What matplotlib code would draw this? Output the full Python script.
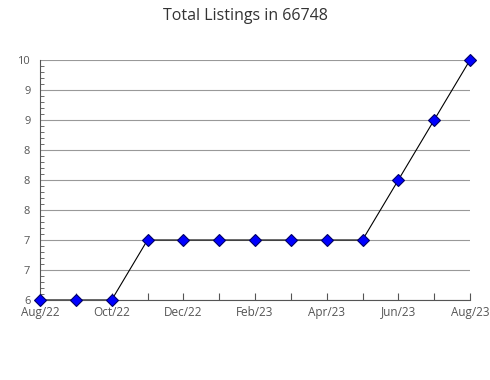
import matplotlib.pyplot as plt
from matplotlib.ticker import FixedLocator, MultipleLocator

months = ["Aug/22", "Sep/22", "Oct/22", "Nov/22", "Dec/22", "Jan/23", "Feb/23",
          "Mar/23", "Apr/23", "May/23", "Jun/23", "Jul/23", "Aug/23"]
listings = [6, 6, 6, 7, 7, 7, 7, 7, 7, 7, 8, 9, 10]
y_ticks = [6, 6.5, 7, 7.5, 8, 8.5, 9, 9.5, 10]
y_labels = ["6", "7", "7", "8", "8", "8", "9", "9", "10"]

plt.rcParams['font.family'] = ['Open Sans', 'DejaVu Sans']

fig = plt.figure(figsize=(4.9, 3.8), dpi=100)
ax = fig.add_axes([40 / 490, 80 / 380, 430 / 490, 240 / 380])

x = list(range(len(months)))
ax.plot(x, listings, color="black", linewidth=0.8, zorder=3)
ax.plot(x, listings, linestyle="none", marker="D", markersize=6,
        markerfacecolor="#0000ff", markeredgecolor="#000066",
        markeredgewidth=0.8, zorder=4, clip_on=False)

ax.set_xlim(0, len(months) - 1)
ax.set_ylim(6, 10)
ax.set_xticks(x)
ax.set_xticklabels([m if i % 2 == 0 else "" for i, m in enumerate(months)])
ax.yaxis.set_major_locator(FixedLocator(y_ticks))
ax.set_yticklabels(y_labels)
ax.yaxis.set_minor_locator(MultipleLocator(0.1))

ax.grid(axis="y", color="#999999", linewidth=0.8)
ax.set_axisbelow(True)
for side in ("top", "right"):
    ax.spines[side].set_visible(False)
for side in ("left", "bottom"):
    ax.spines[side].set_color("#555555")
    ax.spines[side].set_linewidth(0.8)

ax.tick_params(axis="x", direction="in", length=5, color="#555555",
               labelsize=8.5, labelcolor="#555555", pad=4)
ax.tick_params(axis="y", which="major", direction="in", length=0,
               labelsize=8, labelcolor="#555555", pad=7)
ax.tick_params(axis="y", which="minor", direction="in", length=3,
               color="#555555")

fig.suptitle("Total Listings in 66748", x=0.5, y=0.98, fontsize=11.5,
             color="#333333")

fig.savefig("out.png", dpi=100)
